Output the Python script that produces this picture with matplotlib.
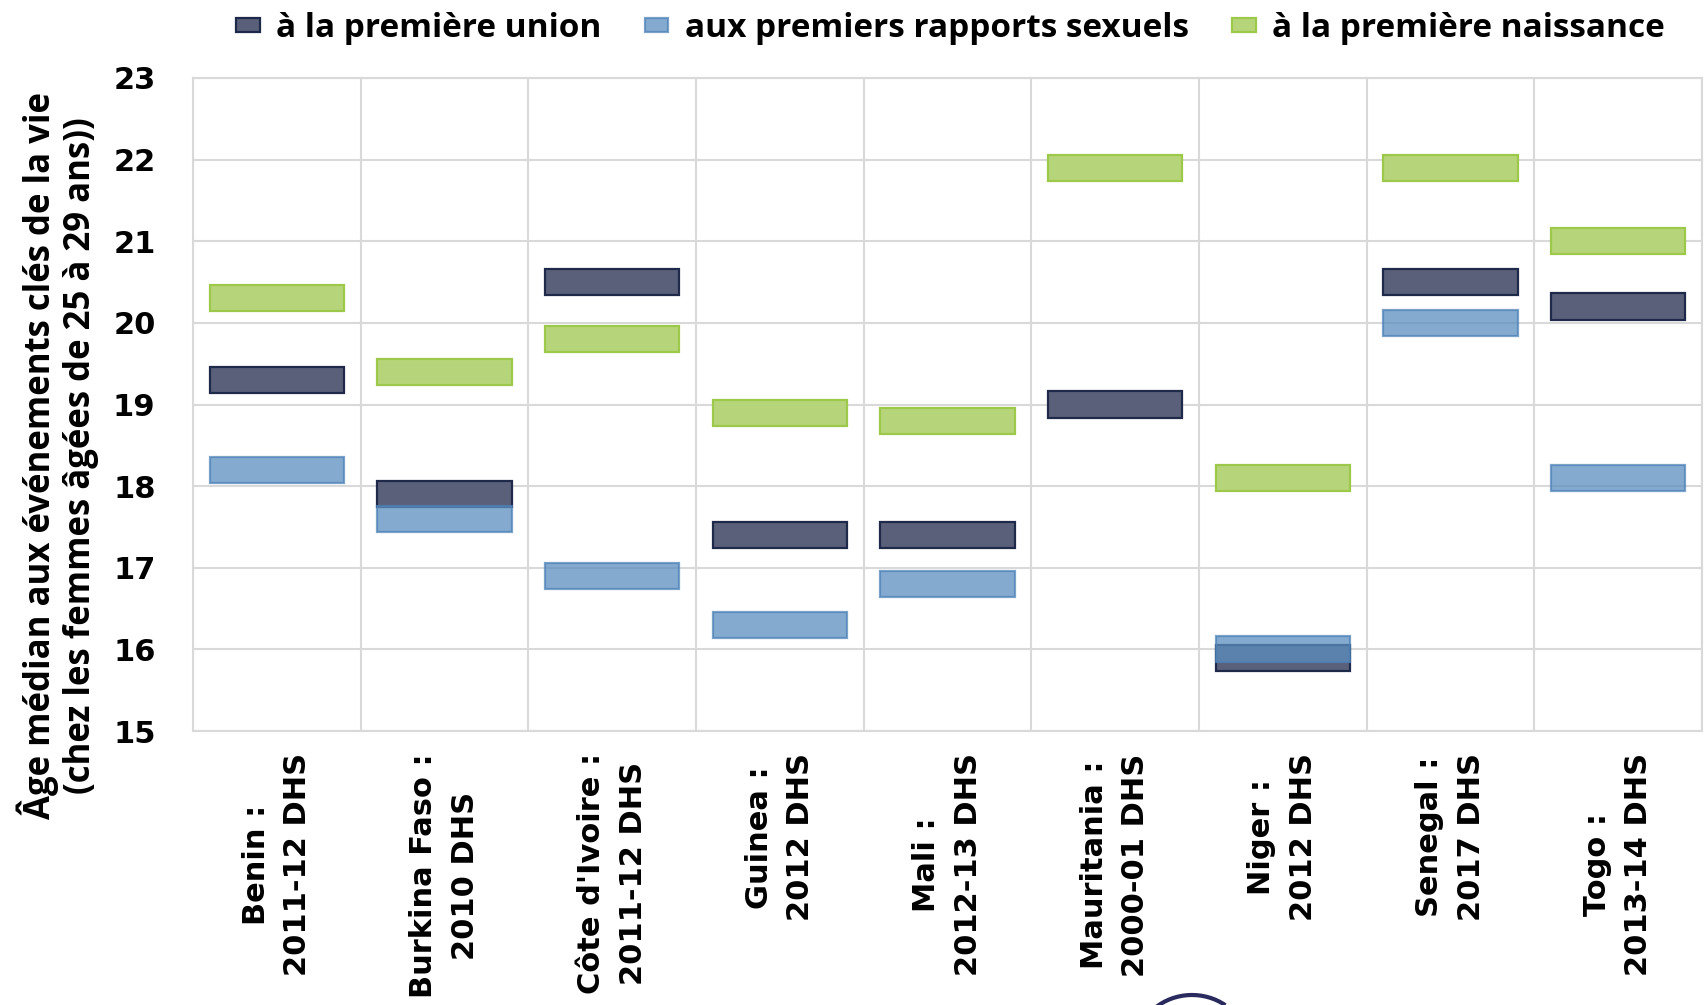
import matplotlib
matplotlib.use("Agg")
import matplotlib.pyplot as plt
from matplotlib.patches import Patch, Arc
import numpy as np

categories = ["Benin :\n2011-12 DHS", "Burkina Faso :\n2010 DHS", "Côte d'Ivoire :\n2011-12 DHS",
              "Guinea :\n2012 DHS", "Mali :\n2012-13 DHS", "Mauritania :\n2000-01 DHS",
              "Niger :\n2012 DHS", "Senegal :\n2017 DHS", "Togo :\n2013-14 DHS"]
union = [19.3, 17.9, 20.5, 17.4, 17.4, 19.0, 15.9, 20.5, 20.2]
rapports = [18.2, 17.6, 16.9, 16.3, 16.8, np.nan, 16.0, 20.0, 18.1]
naissance = [20.3, 19.4, 19.8, 18.9, 18.8, 21.9, 18.1, 21.9, 21.0]

series = [
    ("à la première union", union, "#5a6079", "#1f2a4a", 1.0),
    ("aux premiers rapports sexuels", rapports, "#5b8ebf", "#4f83b8", 0.75),
    ("à la première naissance", naissance, "#b6d57a", "#9cc94a", 1.0),
]

fig = plt.figure(figsize=(17.04, 10.05), dpi=100)
ax = fig.add_axes([0.1133, 0.2726, 0.8855, 0.6498])

x = np.arange(len(categories))
half = 0.16
handles = []
for name, vals, fc, ec, a in series:
    vals = np.array(vals, dtype=float)
    ax.bar(x, 2 * half, bottom=vals - half, width=0.8, color=fc, alpha=a,
           edgecolor=ec, linewidth=1.6, zorder=3)
    handles.append(Patch(facecolor=fc, edgecolor=ec, alpha=a, linewidth=1.6, label=name))

ax.set_xlim(-0.5, len(categories) - 0.5)
ax.set_ylim(15, 23)
ax.set_yticks(range(15, 24))
ax.set_yticklabels([str(v) for v in range(15, 24)], fontsize=22, fontweight="bold")
ax.set_xticks(x)
ax.set_xticklabels(categories, rotation=90, fontsize=22, fontweight="bold",
                   ha="center", va="top", multialignment="center", linespacing=1.55)
ax.set_xticks(np.arange(len(categories) + 1) - 0.5, minor=True)
ax.grid(False)
ax.grid(which="minor", axis="x", color="#d9d9d9", linewidth=1.5, zorder=0)
ax.grid(which="major", axis="y", color="#d9d9d9", linewidth=1.5, zorder=0)
ax.tick_params(axis="both", which="both", length=0)
ax.tick_params(axis="x", pad=16)
ax.tick_params(axis="y", pad=27)
for s in ax.spines.values():
    s.set_color("#d9d9d9")
    s.set_linewidth(1.5)

fig.text(0.034, 0.547, "Âge médian aux événements clés de la vie\n(chez les femmes âgées de 25 à 29 ans))",
         rotation=90, ha="center", va="center", fontsize=25, fontweight="bold",
         family="Open Sans", multialignment="center", linespacing=1.15)

fig.legend(handles=handles, loc="upper center", bbox_to_anchor=(0.558, 1.018), ncol=3,
           frameon=False, prop={"family": "Open Sans", "weight": "bold", "size": 24},
           handlelength=0.7, handleheight=0.25, handletextpad=0.5, columnspacing=1.3)

# cut-off logo fragment at the bottom edge
fig.patches.append(Arc((1192, -40), 110, 100, theta1=50, theta2=135, transform=None,
                       color="#2b2a5e", linewidth=3))

fig.savefig("out.png", dpi=100, facecolor="white")
